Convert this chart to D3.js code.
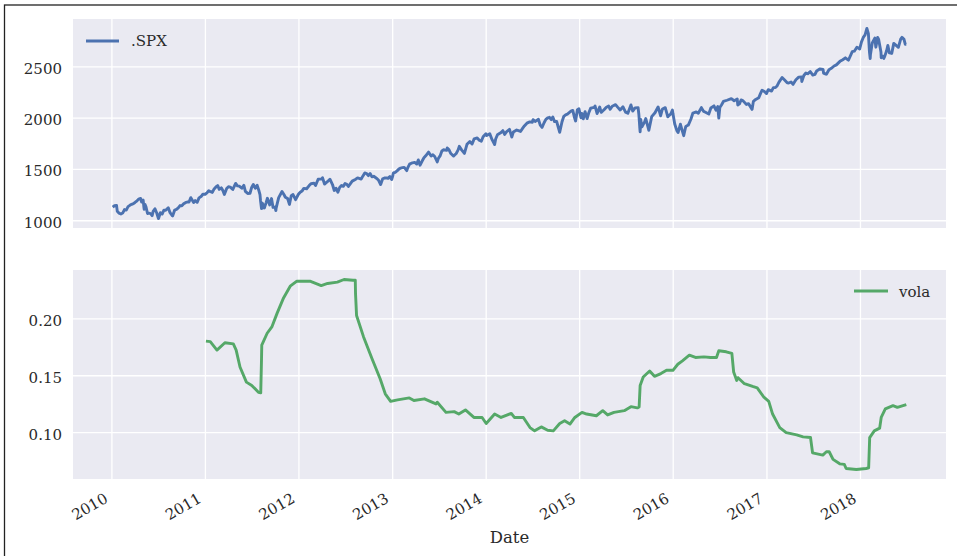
<!DOCTYPE html>
<html>
<head>
<meta charset="utf-8">
<style>
  body{margin:0;background:#fff;}
  svg text{font-family:"DejaVu Serif",serif;fill:#2a2a2a;}
</style>
<script src="https://cdn.jsdelivr.net/npm/d3@7/dist/d3.min.js"></script>
</head>
<body>
<svg id="chart" width="957" height="556"></svg>
<script>
// .SPX close
var spx = [
["2010-01-04",1133],["2010-01-11",1146],["2010-01-19",1150],["2010-01-22",1092],["2010-01-29",1074],["2010-02-05",1066],["2010-02-12",1075],["2010-02-19",1109],["2010-02-26",1104],["2010-03-05",1138],["2010-03-12",1150],["2010-03-19",1160],["2010-03-26",1167],["2010-04-01",1178],["2010-04-09",1194],["2010-04-15",1211],["2010-04-23",1217],["2010-04-27",1183],["2010-05-03",1202],["2010-05-06",1128],["2010-05-07",1111],["2010-05-10",1159],["2010-05-14",1136],["2010-05-20",1071],["2010-05-25",1074],["2010-06-01",1070],["2010-06-07",1050],["2010-06-11",1092],["2010-06-18",1117],["2010-06-25",1076],["2010-07-01",1027],["2010-07-02",1022],["2010-07-09",1078],["2010-07-16",1065],["2010-07-23",1103],["2010-07-30",1102],["2010-08-09",1127],["2010-08-16",1079],["2010-08-24",1051],["2010-08-26",1047],["2010-09-03",1104],["2010-09-10",1110],["2010-09-17",1125],["2010-09-24",1148],["2010-10-01",1146],["2010-10-08",1165],["2010-10-15",1176],["2010-10-22",1183],["2010-10-29",1183],["2010-11-05",1225],["2010-11-16",1178],["2010-11-22",1197],["2010-11-30",1180],["2010-12-07",1223],["2010-12-15",1236],["2010-12-22",1258],["2010-12-31",1258],
["2011-01-07",1271],["2011-01-14",1293],["2011-01-21",1283],["2011-01-28",1276],["2011-02-04",1310],["2011-02-11",1329],["2011-02-18",1343],["2011-02-24",1306],["2011-03-04",1321],["2011-03-10",1295],["2011-03-16",1257],["2011-03-25",1314],["2011-04-01",1332],["2011-04-08",1328],["2011-04-18",1305],["2011-04-29",1364],["2011-05-06",1340],["2011-05-13",1337],["2011-05-23",1317],["2011-05-31",1345],["2011-06-06",1286],["2011-06-15",1266],["2011-06-24",1268],["2011-06-30",1321],["2011-07-07",1353],["2011-07-15",1316],["2011-07-22",1345],["2011-07-29",1292],["2011-08-02",1254],["2011-08-04",1200],["2011-08-08",1119],["2011-08-09",1172],["2011-08-10",1121],["2011-08-11",1172],["2011-08-19",1124],["2011-08-26",1177],["2011-08-31",1219],["2011-09-09",1154],["2011-09-16",1216],["2011-09-22",1130],["2011-09-30",1131],["2011-10-03",1099],["2011-10-04",1124],["2011-10-14",1225],["2011-10-27",1285],["2011-11-04",1253],["2011-11-09",1229],["2011-11-18",1216],["2011-11-25",1159],["2011-12-02",1244],["2011-12-09",1255],["2011-12-19",1206],["2011-12-30",1258],
["2012-01-06",1278],["2012-01-13",1289],["2012-01-20",1315],["2012-01-31",1312],["2012-02-10",1343],["2012-02-17",1361],["2012-02-29",1366],["2012-03-06",1343],["2012-03-16",1404],["2012-03-30",1408],["2012-04-02",1419],["2012-04-10",1358],["2012-04-20",1378],["2012-05-01",1405],["2012-05-11",1353],["2012-05-18",1295],["2012-05-25",1317],["2012-06-01",1278],["2012-06-08",1325],["2012-06-15",1343],["2012-06-22",1335],["2012-06-29",1362],["2012-07-06",1354],["2012-07-12",1334],["2012-07-20",1362],["2012-07-27",1386],["2012-08-10",1405],["2012-08-17",1418],["2012-08-31",1406],["2012-09-07",1437],["2012-09-14",1466],["2012-09-21",1460],["2012-09-28",1440],["2012-10-05",1460],["2012-10-12",1428],["2012-10-19",1433],["2012-10-31",1412],["2012-11-07",1394],["2012-11-15",1353],["2012-11-23",1409],["2012-11-30",1416],["2012-12-07",1418],["2012-12-14",1413],["2012-12-21",1430],["2012-12-28",1402],["2012-12-31",1426],
["2013-01-04",1466],["2013-01-11",1472],["2013-01-18",1486],["2013-01-25",1503],["2013-02-01",1513],["2013-02-08",1518],["2013-02-15",1520],["2013-02-25",1488],["2013-03-01",1518],["2013-03-08",1552],["2013-03-15",1561],["2013-03-28",1569],["2013-04-05",1553],["2013-04-11",1593],["2013-04-18",1541],["2013-04-26",1582],["2013-05-03",1614],["2013-05-10",1633],["2013-05-21",1669],["2013-05-31",1631],["2013-06-07",1643],["2013-06-14",1626],["2013-06-24",1573],["2013-06-28",1606],["2013-07-05",1632],["2013-07-12",1680],["2013-07-19",1692],["2013-07-31",1686],["2013-08-02",1709],["2013-08-09",1691],["2013-08-16",1655],["2013-08-27",1630],["2013-09-06",1655],["2013-09-13",1688],["2013-09-18",1725],["2013-09-27",1691],["2013-10-08",1656],["2013-10-18",1745],["2013-10-29",1771],["2013-11-07",1748],["2013-11-15",1798],["2013-11-27",1807],["2013-12-05",1785],["2013-12-13",1775],["2013-12-20",1818],["2013-12-31",1848],
["2014-01-03",1831],["2014-01-15",1848],["2014-01-24",1790],["2014-02-03",1742],["2014-02-07",1797],["2014-02-14",1838],["2014-02-28",1859],["2014-03-07",1878],["2014-03-14",1841],["2014-03-21",1866],["2014-04-02",1890],["2014-04-11",1815],["2014-04-17",1864],["2014-04-30",1884],["2014-05-07",1878],["2014-05-15",1870],["2014-05-23",1900],["2014-05-30",1924],["2014-06-09",1951],["2014-06-20",1963],["2014-06-30",1960],["2014-07-03",1985],["2014-07-11",1968],["2014-07-24",1988],["2014-07-31",1931],["2014-08-07",1910],["2014-08-15",1955],["2014-08-22",1988],["2014-08-29",2003],["2014-09-05",2008],["2014-09-12",1985],["2014-09-18",2011],["2014-09-25",1966],["2014-10-03",1968],["2014-10-10",1906],["2014-10-15",1862],["2014-10-24",1965],["2014-10-31",2018],["2014-11-07",2032],["2014-11-14",2039],["2014-11-28",2068],["2014-12-05",2075],["2014-12-12",2002],["2014-12-16",1972],["2014-12-23",2082],["2014-12-29",2091],
["2015-01-06",2003],["2015-01-09",2045],["2015-01-15",1993],["2015-01-22",2063],["2015-01-30",1995],["2015-02-06",2055],["2015-02-13",2097],["2015-02-27",2105],["2015-03-02",2117],["2015-03-10",2044],["2015-03-20",2108],["2015-03-26",2056],["2015-04-06",2081],["2015-04-15",2106],["2015-04-24",2117],["2015-04-30",2086],["2015-05-08",2116],["2015-05-21",2131],["2015-05-29",2107],["2015-06-08",2079],["2015-06-19",2110],["2015-06-29",2058],["2015-07-08",2047],["2015-07-20",2128],["2015-07-27",2068],["2015-08-05",2100],["2015-08-17",2102],["2015-08-20",2035],["2015-08-24",1893],["2015-08-25",1867],["2015-08-27",1988],["2015-09-01",1914],["2015-09-11",1961],["2015-09-16",1996],["2015-09-28",1881],["2015-10-09",2014],["2015-10-22",2052],["2015-11-03",2109],["2015-11-13",2023],["2015-11-20",2089],["2015-12-01",2102],["2015-12-11",2012],["2015-12-14",2022],["2015-12-22",2038],["2015-12-29",2078],["2015-12-31",2044],
["2016-01-07",1943],["2016-01-15",1880],["2016-01-20",1859],["2016-01-29",1940],["2016-02-05",1880],["2016-02-11",1829],["2016-02-19",1918],["2016-02-29",1932],["2016-03-10",1989],["2016-03-18",2049],["2016-03-31",2060],["2016-04-08",2048],["2016-04-20",2102],["2016-04-29",2065],["2016-05-06",2057],["2016-05-19",2040],["2016-05-27",2099],["2016-06-08",2119],["2016-06-16",2077],["2016-06-23",2113],["2016-06-27",2001],["2016-07-01",2103],["2016-07-08",2130],["2016-07-15",2162],["2016-07-29",2174],["2016-08-15",2190],["2016-08-26",2169],["2016-09-07",2186],["2016-09-09",2128],["2016-09-16",2139],["2016-09-22",2177],["2016-09-30",2168],["2016-10-13",2133],["2016-10-21",2141],["2016-11-04",2085],["2016-11-09",2163],["2016-11-18",2182],["2016-11-30",2199],["2016-12-07",2241],["2016-12-13",2272],["2016-12-22",2260],["2016-12-30",2239],
["2017-01-06",2277],["2017-01-19",2263],["2017-01-26",2297],["2017-02-03",2297],["2017-02-10",2316],["2017-02-17",2351],["2017-03-01",2396],["2017-03-10",2373],["2017-03-21",2344],["2017-03-27",2342],["2017-04-05",2352],["2017-04-13",2329],["2017-04-24",2374],["2017-05-05",2399],["2017-05-16",2400],["2017-05-17",2357],["2017-05-25",2415],["2017-06-02",2439],["2017-06-09",2432],["2017-06-19",2453],["2017-06-29",2419],["2017-07-07",2425],["2017-07-14",2459],["2017-07-26",2478],["2017-08-08",2474],["2017-08-10",2438],["2017-08-17",2430],["2017-08-21",2428],["2017-08-31",2472],["2017-09-11",2488],["2017-09-20",2508],["2017-09-29",2519],["2017-10-13",2553],["2017-10-24",2569],["2017-11-03",2587],["2017-11-15",2564],["2017-11-30",2648],["2017-12-08",2652],["2017-12-18",2690],["2017-12-29",2674],
["2018-01-05",2743],["2018-01-12",2786],["2018-01-19",2810],["2018-01-26",2873],["2018-02-01",2822],["2018-02-05",2649],["2018-02-08",2581],["2018-02-09",2620],["2018-02-16",2732],["2018-02-26",2780],["2018-03-02",2691],["2018-03-09",2786],["2018-03-13",2766],["2018-03-22",2644],["2018-03-23",2588],["2018-03-28",2605],["2018-04-02",2582],["2018-04-06",2604],["2018-04-13",2656],["2018-04-18",2708],["2018-04-24",2635],["2018-05-03",2630],["2018-05-11",2728],["2018-05-18",2713],["2018-05-29",2690],["2018-06-07",2770],["2018-06-12",2787],["2018-06-20",2767],["2018-06-25",2718],["2018-06-29",2718]
];

// rolling volatility
var vola = [
["2011-01-03",0.1805],["2011-01-20",0.1800],["2011-02-15",0.1726],["2011-03-18",0.1790],["2011-04-20",0.1780],["2011-05-01",0.1726],["2011-05-16",0.1577],["2011-06-10",0.1444],["2011-07-01",0.1415],["2011-07-27",0.1355],["2011-08-05",0.1350],["2011-08-08",0.1650],["2011-08-09",0.1770],["2011-08-30",0.1874],["2011-09-18",0.1933],["2011-10-08",0.2051],["2011-11-02",0.2185],["2011-11-28",0.2288],["2011-12-24",0.2332],
["2012-02-13",0.2332],["2012-03-28",0.2294],["2012-04-22",0.2312],["2012-05-30",0.2324],["2012-06-25",0.2347],["2012-07-30",0.2341],["2012-08-08",0.2341],["2012-08-09",0.2220],["2012-08-13",0.2030],["2012-09-09",0.1844],["2012-10-12",0.1652],["2012-11-13",0.1474],["2012-12-03",0.1341],["2012-12-24",0.1275],
["2013-01-20",0.1288],["2013-03-07",0.1305],["2013-03-25",0.1282],["2013-05-05",0.1297],["2013-06-19",0.1252],["2013-06-24",0.1267],["2013-07-28",0.1178],["2013-08-29",0.1184],["2013-09-16",0.1163],["2013-10-12",0.1199],["2013-11-14",0.1133],["2013-12-16",0.1133],
["2014-01-01",0.1080],["2014-02-03",0.1163],["2014-02-28",0.1133],["2014-04-09",0.1169],["2014-04-21",0.1133],["2014-05-26",0.1133],["2014-06-21",0.1044],["2014-07-09",0.1015],["2014-08-04",0.1050],["2014-08-29",0.1020],["2014-09-20",0.1015],["2014-10-15",0.1080],["2014-11-03",0.1104],["2014-11-24",0.1075],["2014-12-13",0.1133],
["2015-01-10",0.1178],["2015-01-28",0.1163],["2015-03-07",0.1148],["2015-04-01",0.1193],["2015-04-20",0.1155],["2015-05-15",0.1178],["2015-06-24",0.1193],["2015-07-20",0.1228],["2015-08-14",0.1217],["2015-08-21",0.1225],["2015-08-25",0.1415],["2015-09-06",0.1489],["2015-10-01",0.1542],["2015-10-20",0.1495],["2015-11-14",0.1519],["2015-12-06",0.1548],["2015-12-31",0.1548],
["2016-01-19",0.1601],["2016-02-06",0.1631],["2016-03-04",0.1681],["2016-03-28",0.1661],["2016-04-30",0.1666],["2016-05-26",0.1661],["2016-06-18",0.1661],["2016-06-27",0.1720],["2016-07-26",0.1711],["2016-08-17",0.1696],["2016-08-24",0.1533],["2016-09-05",0.1459],["2016-09-10",0.1483],["2016-10-05",0.1430],["2016-11-06",0.1406],["2016-11-24",0.1394],["2016-12-20",0.1311],
["2017-01-08",0.1275],["2017-01-23",0.1163],["2017-02-20",0.1044],["2017-03-17",0.1000],["2017-04-27",0.0980],["2017-05-22",0.0962],["2017-06-20",0.0956],["2017-06-28",0.0822],["2017-08-07",0.0802],["2017-08-21",0.0831],["2017-09-01",0.0831],["2017-09-16",0.0764],["2017-10-12",0.0725],["2017-10-30",0.0720],["2017-11-06",0.0684],["2017-12-16",0.0675],
["2018-01-23",0.0684],["2018-02-02",0.0690],["2018-02-06",0.0956],["2018-02-24",0.1015],["2018-03-17",0.1039],["2018-03-23",0.1133],["2018-04-08",0.1208],["2018-05-08",0.1237],["2018-05-25",0.1222],["2018-06-29",0.1246]
];

var yearTicks = [2010,2011,2012,2013,2014,2015,2016,2017,2018];
var spxTicks = [1000,1500,2000,2500];
var volaTicks = [0.10,0.15,0.20];

var parse = d3.timeParse("%Y-%m-%d");
spx = spx.map(function(d){ return {date:parse(d[0]), v:d[1]}; });
vola = vola.map(function(d){ return {date:parse(d[0]), v:d[1]}; });

var svg = d3.select("#chart");
var left = 73, right = 946;
var top1 = 19, bot1 = 228, top2 = 270, bot2 = 479;
var blue = "#4c72b0", green = "#55a868";
var lw = 2.9;

// matplotlib style 5% margins
function pad(ext){ var p=(ext[1]-ext[0])*0.05; return [ext[0]-p, ext[1]+p]; }

var t0 = spx[0].date, t1 = spx[spx.length-1].date;
var span = t1 - t0;
var x = d3.scaleTime().domain([new Date(+t0 - span*0.05), new Date(+t1 + span*0.05)]).range([left,right]);
var y1 = d3.scaleLinear().domain(pad(d3.extent(spx,function(d){return d.v;}))).range([bot1,top1]);
var y2 = d3.scaleLinear().domain(pad(d3.extent(vola,function(d){return d.v;}))).range([bot2,top2]);

// frame around the figure
svg.append("rect").attr("x",4.5).attr("y",5).attr("width",1000).attr("height",1000)
  .attr("fill","none").attr("stroke","#222").attr("stroke-width",1.3);

function panel(y, top, bot, ticks, fmt, data, color){
  var g = svg.append("g");
  g.append("rect").attr("x",left).attr("y",top).attr("width",right-left).attr("height",bot-top).attr("fill","#eaeaf2");
  g.selectAll(".vg").data(yearTicks).enter().append("line")
    .attr("x1",function(d){return x(new Date(d,0,1));}).attr("x2",function(d){return x(new Date(d,0,1));})
    .attr("y1",top).attr("y2",bot).attr("stroke","#fff").attr("stroke-width",1.3);
  g.selectAll(".hg").data(ticks).enter().append("line")
    .attr("x1",left).attr("x2",right).attr("y1",function(d){return y(d);}).attr("y2",function(d){return y(d);})
    .attr("stroke","#fff").attr("stroke-width",1.3);
  g.selectAll(".yl").data(ticks).enter().append("text")
    .attr("x",left-11).attr("y",function(d){return y(d)+7;}).attr("text-anchor","end")
    .attr("font-size",15).text(fmt);
  var line = d3.line().x(function(d){return x(d.date);}).y(function(d){return y(d.v);});
  g.append("path").datum(data).attr("d",line).attr("fill","none").attr("stroke",color)
    .attr("stroke-width",lw).attr("stroke-linejoin","round");
  return g;
}

panel(y1, top1, bot1, spxTicks, d3.format("d"), spx, blue);
panel(y2, top2, bot2, volaTicks, d3.format(".2f"), vola, green);

// legends
svg.append("line").attr("x1",86).attr("x2",119).attr("y1",41).attr("y2",41).attr("stroke",blue).attr("stroke-width",lw);
svg.append("text").attr("x",131).attr("y",46).attr("font-size",15).text(".SPX");
svg.append("line").attr("x1",854).attr("x2",888).attr("y1",291).attr("y2",291).attr("stroke",green).attr("stroke-width",lw);
svg.append("text").attr("x",899).attr("y",296.5).attr("font-size",15).text("vola");

// rotated year labels
svg.selectAll(".xl").data(yearTicks).enter().append("text")
  .attr("transform",function(d){ return "translate("+(x(new Date(d,0,1))-3)+","+(bot2+22.5)+") rotate(-30)"; })
  .attr("text-anchor","end").attr("font-size",15).text(function(d){return d;});

svg.append("text").attr("x",(left+right)/2).attr("y",543).attr("text-anchor","middle").attr("font-size",16.5).text("Date");
</script>
</body>
</html>
